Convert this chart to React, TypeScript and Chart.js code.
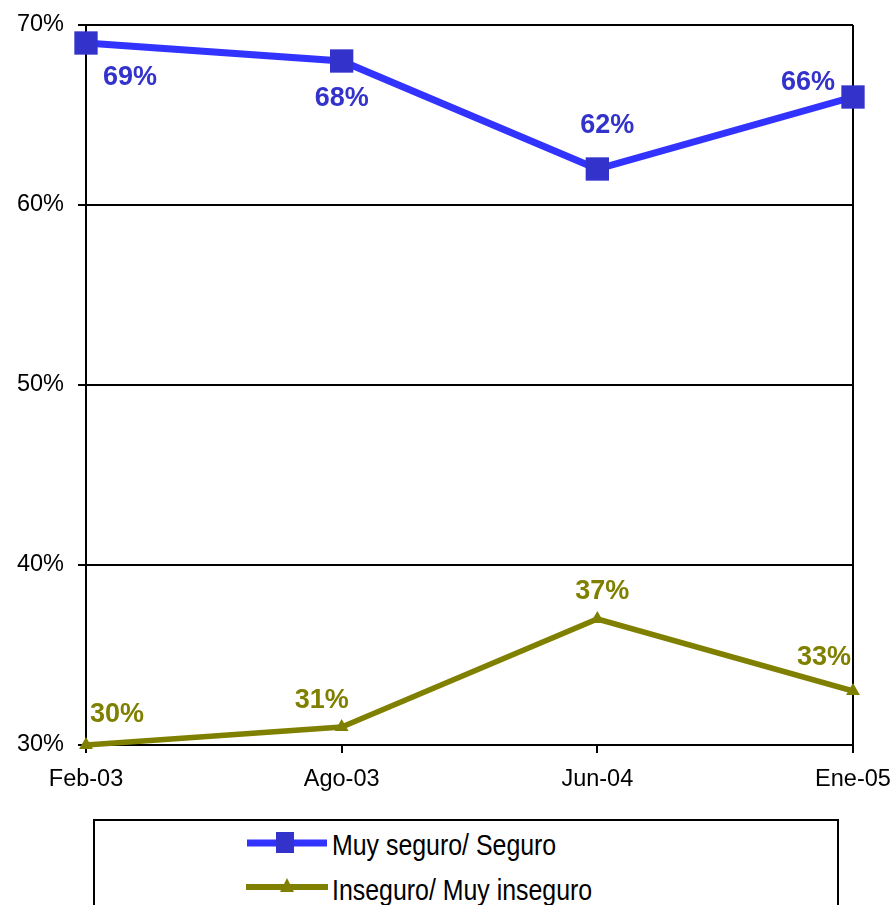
import React, { useEffect, useRef } from "react";
import { Chart, registerables } from "chart.js";

Chart.register(...registerables);

const categories = ["Feb-03", "Ago-03", "Jun-04", "Ene-05"];
const seguroValues = [69, 68, 62, 66];
const inseguroValues = [30, 31, 37, 33];
const yTickValues = [30, 40, 50, 60, 70];
const seriesNames = ["Muy seguro/ Seguro", "Inseguro/ Muy inseguro"];

// label placement offsets (pixels) relative to each point
const labelOffsets = [
  [[44, 34], [0, 37], [10, -44], [-45, -15]],
  [[31, -31], [-20, -27], [5, -28], [-29, -34]],
];

const BLUE_LINE = "#3333FF";
const BLUE_MARK = "#3333CC";
const OLIVE = "#808000";
const labelColors = [BLUE_MARK, OLIVE];

const dataLabelPlugin = {
  id: "dataLabels",
  afterDatasetsDraw(chart: any) {
    const ctx = chart.ctx;
    ctx.save();
    ctx.font = 'bold 27px "Liberation Sans", Arial, sans-serif';
    ctx.textAlign = "center";
    ctx.textBaseline = "middle";
    chart.data.datasets.forEach((ds: any, di: number) => {
      const meta = chart.getDatasetMeta(di);
      ctx.fillStyle = labelColors[di];
      meta.data.forEach((pt: any, i: number) => {
        const [dx, dy] = labelOffsets[di][i];
        ctx.fillText(`${ds.data[i]}%`, pt.x + dx, pt.y + dy + 1);
      });
    });
    ctx.restore();
  },
};

export default function App() {
  const ref = useRef<HTMLCanvasElement | null>(null);

  useEffect(() => {
    if (!ref.current) return;
    const chart = new Chart(ref.current, {
      type: "line",
      data: {
        labels: categories,
        datasets: [
          {
            label: seriesNames[0],
            data: seguroValues,
            borderColor: BLUE_LINE,
            borderWidth: 7,
            backgroundColor: BLUE_MARK,
            pointStyle: "rect",
            pointRadius: 16.5,
            pointBorderWidth: 0,
            pointBackgroundColor: BLUE_MARK,
            tension: 0,
            clip: false as any,
          },
          {
            label: seriesNames[1],
            data: inseguroValues,
            borderColor: OLIVE,
            borderWidth: 5.5,
            backgroundColor: OLIVE,
            pointStyle: "triangle",
            pointRadius: 8,
            pointBorderWidth: 0,
            pointBackgroundColor: OLIVE,
            tension: 0,
            clip: false as any,
          },
        ],
      },
      options: {
        responsive: false,
        maintainAspectRatio: false,
        animation: false,
        devicePixelRatio: 1,
        layout: { padding: { left: 0, right: 41, top: 25, bottom: 0 } },
        plugins: {
          legend: { display: false },
          tooltip: { enabled: false },
        },
        scales: {
          x: {
            type: "category",
            offset: false,
            grid: {
              color: (c: any) =>
                c.index === 0 || c.index === categories.length - 1 ? "#000" : "rgba(0,0,0,0)",
              tickColor: "#000",
              lineWidth: 2,
              tickLength: 8,
            },
            border: { display: true, color: "#000", width: 2 },
            ticks: {
              color: "#000",
              font: { family: '"Liberation Sans", Arial, sans-serif', size: 23.5 },
              padding: 12,
              maxRotation: 0,
              autoSkip: false,
            },
            afterFit: (s: any) => {
              s.height = 55;
              s.paddingLeft = 0;
              s.paddingRight = 0;
            },
          },
          y: {
            min: 30,
            max: 70,
            grid: { color: "#000", lineWidth: 2, tickLength: 8 },
            border: { display: true, color: "#000", width: 2 },
            afterBuildTicks: (s: any) => {
              s.ticks = yTickValues.map((v) => ({ value: v }));
            },
            ticks: {
              color: "#000",
              font: { family: '"Liberation Sans", Arial, sans-serif', size: 23.5 },
              padding: 14,
              callback: (v: any) => `${v}%`,
            },
            afterFit: (s: any) => {
              s.width = 86;
              s.paddingTop = 0;
              s.paddingBottom = 0;
            },
          },
        },
      },
      plugins: [dataLabelPlugin],
    });
    return () => chart.destroy();
  }, []);

  const legendText: React.CSSProperties = {
    position: "absolute",
    left: 332,
    fontFamily: '"Liberation Sans", Arial, sans-serif',
    fontSize: 30,
    lineHeight: "30px",
    color: "#000",
    whiteSpace: "nowrap",
    transform: "scaleX(0.83)",
    transformOrigin: "0 0",
  };

  return (
    <div
      style={{
        position: "absolute",
        left: 0,
        top: 0,
        width: 894,
        height: 905,
        overflow: "hidden",
        background: "#fff",
      }}
    >
      <canvas
        ref={ref}
        width={894}
        height={800}
        style={{ position: "absolute", left: 0, top: 0, width: 894, height: 800 }}
      />
      <div
        style={{
          position: "absolute",
          left: 93,
          top: 819,
          width: 746,
          height: 120,
          border: "2px solid #000",
          boxSizing: "border-box",
        }}
      />
      <svg width={82} height={26} style={{ position: "absolute", left: 246, top: 830 }}>
        <line x1={1} y1={13} x2={81} y2={13} stroke={BLUE_LINE} strokeWidth={7} />
        <rect x={30} y={2} width={18} height={21} fill={BLUE_MARK} />
      </svg>
      <svg width={82} height={26} style={{ position: "absolute", left: 246, top: 874 }}>
        <line x1={1} y1={13} x2={81} y2={13} stroke={OLIVE} strokeWidth={6} strokeLinecap="round" />
        <polygon points="41,4 34,18 48,18" fill={OLIVE} />
      </svg>
      <span style={{ ...legendText, top: 830 }}>{seriesNames[0]}</span>
      <span style={{ ...legendText, top: 875 }}>{seriesNames[1]}</span>
    </div>
  );
}
